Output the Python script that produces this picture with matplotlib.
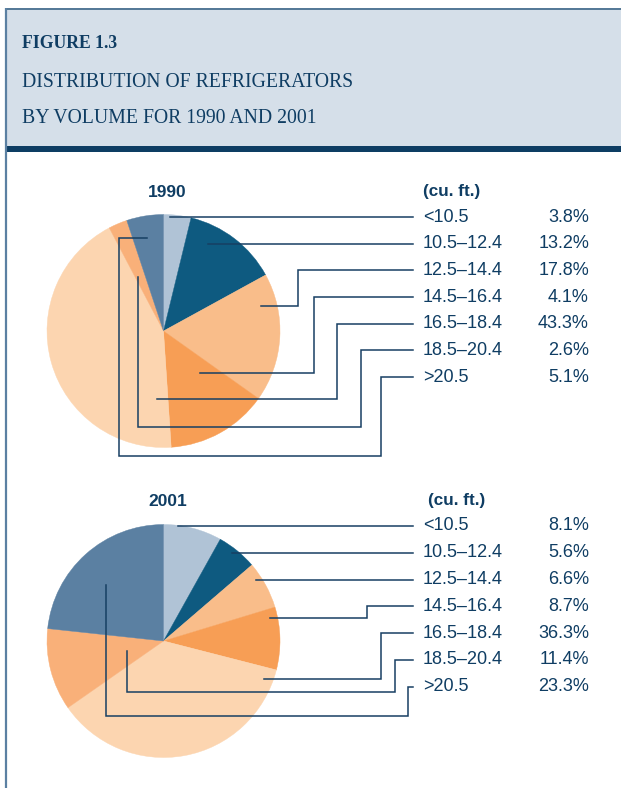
import matplotlib.pyplot as plt
from matplotlib.patches import Rectangle

navy = '#0f3d63'
line_col = '#173f63'

# data
ranges = ['<10.5', '10.5–12.4', '12.5–14.4', '14.5–16.4', '16.5–18.4', '18.5–20.4', '>20.5']
years = ['1990', '2001']
# slice sizes as drawn in the pies
share_1990 = [3.8, 13.2, 17.8, 14.1, 43.3, 2.6, 5.1]
share_2001 = [8.1, 5.6, 6.6, 8.7, 36.3, 11.4, 23.3]
# percentages as printed in the legend
pct_1990 = ['3.8%', '13.2%', '17.8%', '4.1%', '43.3%', '2.6%', '5.1%']
pct_2001 = ['8.1%', '5.6%', '6.6%', '8.7%', '36.3%', '11.4%', '23.3%']

slice_colors = ['#b0c3d6', '#0e5a80', '#f9bd8a', '#f79e55', '#fcd5b0', '#f9b079', '#5b80a2']

fig = plt.figure(figsize=(6.21, 7.88), dpi=100)
ax = fig.add_axes([0, 0, 1, 1])

# header panel
ax.add_patch(Rectangle((5, 8), 616, 139, facecolor='#d5dfe9', edgecolor='none', zorder=0))
ax.add_patch(Rectangle((5, 146), 616, 6, facecolor='#0d3d63', edgecolor='none', zorder=1))
ax.plot([5, 621], [8.5, 8.5], color='#3d6688', lw=1.2, solid_capstyle='butt')
ax.plot([6, 6], [8, 788], color='#5b80a2', lw=1.6, solid_capstyle='butt')

ax.text(22, 48, 'FIGURE 1.3', fontsize=12.7, fontweight='bold', family='Liberation Serif',
        color=navy, va='baseline')
ax.text(22, 87, 'DISTRIBUTION OF REFRIGERATORS', fontsize=14.2, family='Liberation Serif',
        color=navy, va='baseline')
ax.text(22, 123, 'BY VOLUME FOR 1990 AND 2001', fontsize=14.2, family='Liberation Serif',
        color=navy, va='baseline')

# layout of the two panels: pie center, radius, first legend row, row step, header x
panels = [
    dict(year=years[0], share=share_1990, pct=pct_1990, center=(163.5, 331), radius=116.5,
         row0=217, step=26.67, title_y=192, unit_x=423, unit_y=191,
         leaders=[
             [(170, None)],
             [(208, None)],
             [(261, 306), (298, 306)],
             [(200, 373), (314, 373)],
             [(157, 399), (337, 399)],
             [(138, 277), (138, 427), (361, 427)],
             [(147, 238), (119, 238), (119, 456), (381, 456)],
         ]),
    dict(year=years[1], share=share_2001, pct=pct_2001, center=(163.5, 641), radius=116.5,
         row0=526, step=26.8, title_y=501, unit_x=428, unit_y=500,
         leaders=[
             [(178, None)],
             [(232, None)],
             [(256, None)],
             [(270, 618), (367, 618)],
             [(264, 679), (381, 679)],
             [(127, 651), (127, 692), (395, 692)],
             [(106, 585), (106, 716), (408, 716)],
         ]),
]

for p in panels:
    # y axis is flipped, so startangle -90 is 12 o'clock and counterclock runs clockwise on screen
    wedges, _ = ax.pie(p['share'], colors=slice_colors, startangle=-90, counterclock=True,
                       center=p['center'], radius=p['radius'])
    for w in wedges:
        w.set_edgecolor(w.get_facecolor())
        w.set_linewidth(0.3)
    ax.text(p['center'][0] + 4, p['title_y'], p['year'], fontsize=12.5, fontweight='bold',
            family='Liberation Sans', color=navy, ha='center', va='center')
    ax.text(p['unit_x'], p['unit_y'], '(cu. ft.)', fontsize=12.3, fontweight='bold',
            family='Liberation Sans', color=navy, va='center')
    for i, (lab, pc) in enumerate(zip(ranges, p['pct'])):
        ry = p['row0'] + i * p['step']
        ax.text(423, ry, lab, fontsize=13, family='Liberation Sans', color=navy, va='center')
        ax.text(589, ry, pc, fontsize=13, family='Liberation Sans', color=navy,
                va='center', ha='right')
        pts = [(x, ry if y is None else y) for x, y in p['leaders'][i]]
        pts.append((pts[-1][0], ry))
        pts.append((413, ry))
        xs, ys = zip(*pts)
        ax.plot(xs, ys, color=line_col, lw=1.1, solid_joinstyle='miter', zorder=5)

ax.set_xlim(0, 621)
ax.set_ylim(788, 0)
ax.set_aspect('auto')
ax.axis('off')

fig.savefig('out.png', dpi=100)
